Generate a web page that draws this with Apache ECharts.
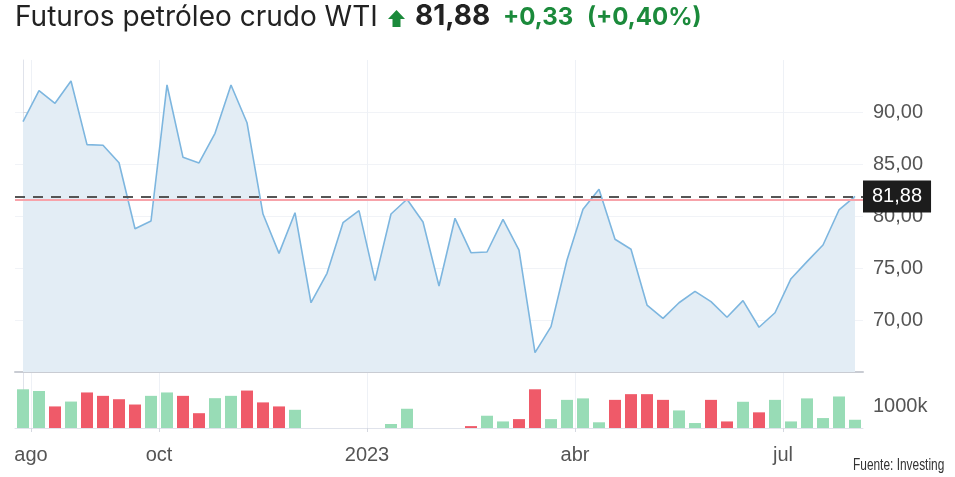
<!DOCTYPE html>
<html>
<head>
<meta charset="utf-8">
<script src="https://cdn.jsdelivr.net/npm/echarts@6/dist/echarts.min.js"></script>
<style>
html,body{margin:0;padding:0;background:#fff;}
#chart{width:955px;height:477px;}
</style>
</head>
<body>
<div id="chart"></div>
<script>
// ---- data ----
const instrument = 'Futuros petróleo crudo WTI';
const lastPrice = 81.88;
const priceChange = 0.33;
const pctChange = 0.40;
const prevClose = 81.55;
const source = 'Fuente: Investing';

// weekly closes
const closes = [89.07, 92.05, 90.84, 92.98, 86.86, 86.80, 85.12, 78.78, 79.52, 92.60,
  85.64, 85.10, 87.95, 92.60, 88.97, 80.19, 76.41, 80.32, 71.66, 74.49,
  79.36, 80.51, 73.78, 80.19, 81.61, 79.42, 73.27, 79.78, 76.47, 76.54,
  79.68, 76.73, 66.86, 69.36, 75.77, 80.64, 82.57, 77.76, 76.80, 71.44,
  70.16, 71.66, 72.76, 71.76, 70.26, 71.86, 69.30, 70.70, 73.97, 75.61,
  77.21, 80.58, 81.88];

// weekly volume, thousands (null = no data)
const volumes = [1830, 1750, 1020, 1250, 1680, 1520, 1360, 1110, 1520, 1680,
  1520, 700, 1410, 1520, 1770, 1210, 1020, 860, null, null,
  null, null, null, 190, 910, null, null, null, 90, 580,
  310, 420, 1830, 420, 1330, 1400, 270, 1330, 1600, 1600,
  1330, 830, 235, 1330, 310, 1240, 740, 1330, 310, 1400,
  470, 1490, 390];

// x-axis month labels and the week index they sit at
const monthLabels = ['ago', 'oct', '2023', 'abr', 'jul'];
const monthIndex = [0.5, 8.5, 21.5, 34.5, 47.5];

// price axis ticks and volume tick
const priceTicks = [70, 75, 80, 85, 90];
const volumeTicks = [1000];

// ---- helpers ----
const fmt = (v, d) => v.toFixed(d).replace('.', ',');
const UP = '#98dcb6', DOWN = '#ef5a69', GREEN = '#1b8a3b';

const lineData = closes.map((v, i) => [i, v]);
const volData = volumes.map((v, i) => ({
  value: [i, v],
  itemStyle: { color: (i === 0 || closes[i] >= closes[i - 1]) ? UP : DOWN }
}));

const labelFont = 'Liberation Sans, Arial, sans-serif';
const titleFont = 'Inter, Roboto, sans-serif';

const chart = echarts.init(document.getElementById('chart'), null, { renderer: 'canvas' });
chart.setOption({
  animation: false,
  backgroundColor: '#fff',
  graphic: [
    { type: 'text', x: 15, y: 18,
      style: { text: instrument, fontFamily: titleFont, fontSize: 28, fontWeight: 'normal', fill: '#222', textVerticalAlign: 'middle' } },
    { type: 'polygon',
      shape: { points: [[388, 19], [396.5, 10], [405, 19], [400.5, 19], [400.5, 27], [392.5, 27], [392.5, 19]] },
      style: { fill: GREEN } },
    { type: 'text', x: 415, y: 17,
      style: { text: fmt(lastPrice, 2), fontFamily: titleFont, fontSize: 28, fontWeight: 'bold', fill: '#222', textVerticalAlign: 'middle' } },
    { type: 'text', x: 503, y: 18,
      style: { text: '+' + fmt(priceChange, 2), fontFamily: titleFont, fontSize: 24, fontWeight: 'bold', fill: GREEN, textVerticalAlign: 'middle' } },
    { type: 'text', x: 587, y: 18,
      style: { text: '(+' + fmt(pctChange, 2) + '%)', fontFamily: titleFont, fontSize: 24, fontWeight: 'bold', fill: GREEN, textVerticalAlign: 'middle' } },
    { type: 'text', x: 853, y: 465, scaleX: 0.7,
      style: { text: source, fontFamily: 'Liberation Sans, sans-serif', fontSize: 17, fill: '#333', textVerticalAlign: 'middle' } }
  ],
  grid: [
    { left: 15, right: 92, top: 60, bottom: 105 },
    { left: 15, right: 92, top: 373, bottom: 49 }
  ],
  xAxis: [
    {
      type: 'value', gridIndex: 0, min: -0.5, max: 52.5,
      axisLine: { show: true, onZero: false, lineStyle: { color: '#c9ccd3', width: 2 } },
      axisTick: { show: false, customValues: monthIndex },
      axisLabel: { show: false, customValues: monthIndex },
      splitLine: { show: true, lineStyle: { color: '#eef1f6', width: 1 } }
    },
    {
      type: 'value', gridIndex: 1, min: -0.5, max: 52.5,
      axisLine: { show: true, onZero: false, lineStyle: { color: '#e0e3eb', width: 1 } },
      axisTick: { show: true, length: 4, customValues: monthIndex, lineStyle: { color: '#d5d8e0' } },
      axisLabel: {
        customValues: monthIndex, margin: 17,
        fontFamily: labelFont, fontSize: 20, color: '#555',
        formatter: v => monthLabels[monthIndex.indexOf(v)] || ''
      },
      splitLine: { show: true, lineStyle: { color: '#eef1f6', width: 1 } }
    }
  ],
  yAxis: [
    {
      type: 'value', gridIndex: 0, position: 'right', min: 65, max: 95,
      axisLine: { show: true, lineStyle: { color: '#e0e3eb' } },
      axisTick: { show: true, length: 4, customValues: priceTicks, lineStyle: { color: '#d5d8e0' } },
      axisLabel: {
        customValues: priceTicks, margin: 10,
        fontFamily: labelFont, fontSize: 20, color: '#555',
        formatter: v => fmt(v, 2)
      },
      splitLine: { show: true, lineStyle: { color: '#f1f3f7' } }
    },
    {
      type: 'value', gridIndex: 1, position: 'right', min: 0, max: 2600,
      axisLine: { show: true, lineStyle: { color: '#e0e3eb' } },
      axisTick: { show: true, length: 4, customValues: volumeTicks, lineStyle: { color: '#d5d8e0' } },
      axisLabel: {
        customValues: volumeTicks, margin: 10,
        fontFamily: labelFont, fontSize: 20, color: '#555',
        formatter: v => v + 'k'
      },
      splitLine: { show: false }
    }
  ],
  series: [
    {
      type: 'line', xAxisIndex: 0, yAxisIndex: 0,
      data: lineData, symbol: 'none',
      lineStyle: { color: '#7db6df', width: 1.6 },
      areaStyle: { color: '#e3edf5', origin: 'start', opacity: 1 },
      z: 2,
      markLine: {
        silent: true, symbol: 'none',
        data: [
          {
            yAxis: prevClose,
            lineStyle: { color: '#f7a3aa', width: 2, type: 'solid' },
            label: { show: false }
          },
          {
            yAxis: lastPrice,
            lineStyle: { color: '#555', width: 2, type: [10, 8] },
            label: {
              show: true, position: 'end', distance: 0,
              formatter: fmt(lastPrice, 2),
              backgroundColor: '#1c1c1c', color: '#fff',
              fontFamily: labelFont, fontSize: 20,
              padding: [6, 9, 6, 9]
            }
          }
        ]
      }
    },
    {
      type: 'bar', xAxisIndex: 1, yAxisIndex: 1,
      data: volData, barWidth: 12
    }
  ]
});
</script>
</body>
</html>
